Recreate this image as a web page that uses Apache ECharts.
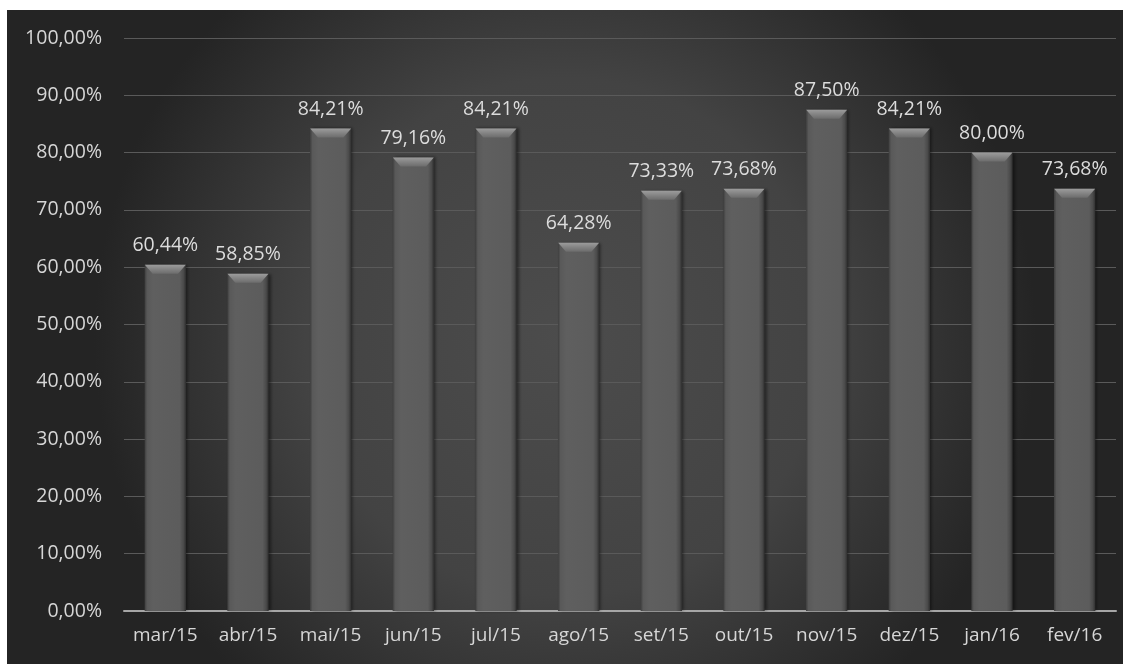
<!DOCTYPE html>
<html>
<head>
<meta charset="utf-8">
<script src="https://cdn.jsdelivr.net/npm/echarts@6/dist/echarts.min.js"></script>
<style>
  html, body { margin: 0; padding: 0; background: #ffffff; }
  #chart { position: absolute; left: 7px; top: 10px; width: 1116px; height: 654px; }
</style>
</head>
<body>
<div id="chart"></div>
<script>
// meses e percentuais
const months = ['mar/15', 'abr/15', 'mai/15', 'jun/15', 'jul/15', 'ago/15',
                'set/15', 'out/15', 'nov/15', 'dez/15', 'jan/16', 'fev/16'];
const rates = [60.44, 58.85, 84.21, 79.16, 84.21, 64.28, 73.33, 73.68, 87.50, 84.21, 80.00, 73.68];
const yTicks = [0, 10, 20, 30, 40, 50, 60, 70, 80, 90, 100];

const fmt = (v) => v.toFixed(2).replace('.', ',') + '%';
const font = '"Open Sans", "Noto Sans", sans-serif';

const chart = echarts.init(document.getElementById('chart'));
chart.setOption({
  backgroundColor: {
    type: 'radial', x: 0.5, y: 0.5, r: 0.72,
    colorStops: [
      { offset: 0, color: '#4c4c4c' },
      { offset: 0.55, color: '#434343' },
      { offset: 1, color: '#242424' }
    ]
  },
  animation: false,
  grid: { left: 117, right: 7, top: 28, bottom: 53 },
  xAxis: {
    type: 'category',
    data: months,
    axisTick: { show: false },
    axisLine: { lineStyle: { color: '#a6a6a6', width: 2 } },
    axisLabel: { interval: 0, color: '#d6d6d6', fontSize: 19, fontFamily: font, margin: 15 }
  },
  yAxis: {
    type: 'value',
    min: yTicks[0],
    max: yTicks[yTicks.length - 1],
    interval: 10,
    axisLine: { show: false },
    axisTick: { show: false },
    splitLine: { lineStyle: { color: '#5a5a5a', width: 1 } },
    axisLabel: {
      color: '#d6d6d6', fontSize: 19.5, fontFamily: font, margin: 22,
      formatter: (v) => v.toFixed(2).replace('.', ',') + '%'
    }
  },
  series: [
    {
      type: 'bar',
      data: rates,
      barWidth: '50%',
      itemStyle: {
        color: {
          type: 'linear', x: 0, y: 0, x2: 1, y2: 0,
          colorStops: [
            { offset: 0, color: '#3e3e3e' },
            { offset: 0.06, color: '#595959' },
            { offset: 0.2, color: '#5f5f5f' },
            { offset: 0.85, color: '#5c5c5c' },
            { offset: 0.94, color: '#4a4a4a' },
            { offset: 1, color: '#2e2e2e' }
          ]
        },
        shadowColor: 'rgba(0,0,0,0.45)',
        shadowBlur: 3,
        shadowOffsetX: 2
      },
      label: {
        show: true,
        position: 'top',
        distance: 9,
        color: '#dcdcdc',
        fontSize: 19.5,
        fontFamily: font,
        formatter: (p) => fmt(p.value)
      },
      z: 2
    },
    {
      // chanfro claro no topo de cada barra
      type: 'pictorialBar',
      data: rates,
      symbol: 'path://M0,0 L42,0 L34,9 L8,9 Z',
      symbolSize: [41, 9],
      symbolPosition: 'end',
      itemStyle: {
        color: {
          type: 'linear', x: 0, y: 0, x2: 0, y2: 1,
          colorStops: [
            { offset: 0, color: '#9c9c9c' },
            { offset: 1, color: '#6c6c6c' }
          ]
        }
      },
      silent: true,
      z: 3
    }
  ]
});
</script>
</body>
</html>
